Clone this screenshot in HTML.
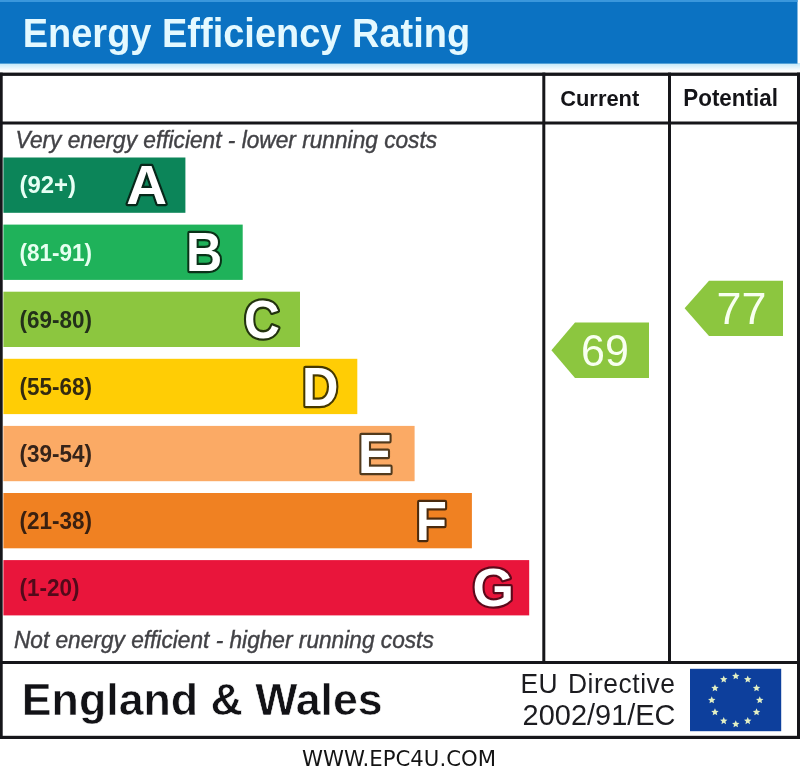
<!DOCTYPE html>
<html><head><meta charset="utf-8">
<style>
html,body{margin:0;padding:0;background:#fff;}
body{width:800px;height:776px;overflow:hidden;}
svg{display:block;position:absolute;left:0;top:0;filter:blur(0.55px)}
text{font-family:"Liberation Sans",sans-serif;white-space:pre}
.b{font-weight:bold}
.i{font-style:italic}
.dj{font-family:"DejaVu Sans",sans-serif}
</style></head><body>
<svg width="800" height="776" viewBox="0 0 800 776">
<defs>
<linearGradient id="glow" x1="0" y1="0" x2="0" y2="1"><stop offset="0" stop-color="#bfe6f8"/><stop offset="1" stop-color="#ffffff"/></linearGradient>
</defs>
<rect x="0" y="63" width="800" height="8" fill="url(#glow)"/>
<rect x="0" y="0" width="797.5" height="63.6" fill="#0b72c2"/>
<rect x="0" y="0" width="797.5" height="2" fill="#3a97dc"/>
<text class="b" transform="translate(22.7,46.6) scale(1,1.08)" font-size="38" fill="#e4f9ff">Energy Efficiency Rating</text>
<rect x="3.4" y="157.50" width="182.00" height="55.3" fill="#0c8559"/>
<text class="b" transform="translate(19.5,193.40) scale(1,1.04)" font-size="22.5" fill="#e6fff4" textLength="56.5" lengthAdjust="spacingAndGlyphs">(92+)</text>
<text class="b" transform="translate(126.29,204.30) scale(0.5657,0.5585)" x="0" y="0" font-size="100" fill="#fff" stroke="#07281a" stroke-width="7.83" stroke-linejoin="round" paint-order="stroke">A</text>
<rect x="3.4" y="224.60" width="239.30" height="55.3" fill="#1fb25a"/>
<text class="b" transform="translate(19.5,260.50) scale(1,1.04)" font-size="22.5" fill="#e6fff0">(81-91)</text>
<text class="b" transform="translate(185.91,271.40) scale(0.5016,0.5585)" x="0" y="0" font-size="100" fill="#fff" stroke="#0a3218" stroke-width="8.30" stroke-linejoin="round" paint-order="stroke">B</text>
<rect x="3.4" y="291.70" width="296.60" height="55.3" fill="#8cc63f"/>
<text class="b" transform="translate(19.5,327.60) scale(1,1.04)" font-size="22.5" fill="#23301a">(69-80)</text>
<text class="b" transform="translate(243.92,337.96) scale(0.4962,0.5428)" x="0" y="0" font-size="100" fill="#fff" stroke="#22330e" stroke-width="8.47" stroke-linejoin="round" paint-order="stroke">C</text>
<rect x="3.4" y="358.80" width="353.90" height="55.3" fill="#ffcd05"/>
<text class="b" transform="translate(19.5,394.70) scale(1,1.04)" font-size="22.5" fill="#332a10">(55-68)</text>
<text class="b" transform="translate(302.09,405.60) scale(0.5045,0.5585)" x="0" y="0" font-size="100" fill="#fff" stroke="#453800" stroke-width="8.28" stroke-linejoin="round" paint-order="stroke">D</text>
<rect x="3.4" y="425.90" width="411.20" height="55.3" fill="#fbaa65"/>
<text class="b" transform="translate(19.5,461.80) scale(1,1.04)" font-size="22.5" fill="#36241a">(39-54)</text>
<text class="b" transform="translate(358.00,472.70) scale(0.5179,0.5585)" x="0" y="0" font-size="100" fill="#fff" stroke="#523a1c" stroke-width="8.18" stroke-linejoin="round" paint-order="stroke">E</text>
<rect x="3.4" y="493.00" width="468.50" height="55.3" fill="#f08122"/>
<text class="b" transform="translate(19.5,528.90) scale(1,1.04)" font-size="22.5" fill="#3a2010">(21-38)</text>
<text class="b" transform="translate(415.76,539.80) scale(0.5103,0.5585)" x="0" y="0" font-size="100" fill="#fff" stroke="#4a2a0e" stroke-width="8.23" stroke-linejoin="round" paint-order="stroke">F</text>
<rect x="3.4" y="560.10" width="525.80" height="55.3" fill="#e9153b"/>
<text class="b" transform="translate(19.5,596.00) scale(1,1.04)" font-size="22.5" fill="#520a1a">(1-20)</text>
<text class="b" transform="translate(472.47,606.36) scale(0.5333,0.5428)" x="0" y="0" font-size="100" fill="#fff" stroke="#5c091a" stroke-width="8.18" stroke-linejoin="round" paint-order="stroke">G</text>
<rect x="0" y="72.6" width="800" height="3.3" fill="#16161a"/>
<rect x="0" y="121.5" width="800" height="3" fill="#16161a"/>
<rect x="0" y="661" width="800" height="3" fill="#16161a"/>
<rect x="0" y="735.8" width="800" height="3.2" fill="#16161a"/>
<rect x="0" y="72.6" width="2.7" height="666.4" fill="#16161a"/>
<rect x="797" y="72.6" width="3" height="666.4" fill="#16161a"/>
<rect x="542.3" y="72.6" width="3" height="590" fill="#16161a"/>
<rect x="668" y="72.6" width="3" height="590" fill="#16161a"/>
<text class="b" transform="translate(560.2,105.5) scale(1,1.04)" font-size="21.9" fill="#141418">Current</text>
<text class="b" transform="translate(683.3,105.5) scale(1,1.04)" font-size="22.4" fill="#141418">Potential</text>
<text class="i" transform="translate(15.6,148) scale(1,1.04)" font-size="22.7" fill="#424246" stroke="#424246" stroke-width="0.4">Very energy efficient - lower running costs</text>
<text class="i" transform="translate(13.9,647.5) scale(1,1.04)" font-size="22.7" fill="#424246" stroke="#424246" stroke-width="0.4">Not energy efficient - higher running costs</text>
<polygon points="551.4,350.3 575,322.6 649,322.6 649,378 575,378" fill="#8cc63f"/>
<polygon points="684.6,308.3 709,280.7 783,280.7 783,336 709,336" fill="#8cc63f"/>
<text transform="translate(581,365.7) scale(1,1.04)" font-size="43" fill="#f8fff0">69</text>
<text transform="translate(716.4,323.7) scale(1,1.04)" font-size="43" fill="#f8fff0" textLength="50" lengthAdjust="spacingAndGlyphs">77</text>
<text class="b" transform="translate(21.8,715) scale(1,0.985)" font-size="44.7" fill="#121216" stroke="#fff" stroke-width="0.6">England &amp; Wales</text>
<text transform="translate(520.4,692.8) scale(1,1.07)" font-size="26.4" fill="#1c1c20" textLength="154.6" lengthAdjust="spacing" word-spacing="2">EU Directive</text>
<text transform="translate(522.6,725) scale(1,1.04)" font-size="27.8" fill="#1c1c20" textLength="152.9" lengthAdjust="spacingAndGlyphs">2002/91/EC</text>
<rect x="690" y="668.8" width="91.2" height="62.4" fill="#0d3f9c"/>
<polygon points="735.75,672.30 736.81,674.74 739.46,674.99 737.46,676.76 738.04,679.36 735.75,678.00 733.46,679.36 734.04,676.76 732.04,674.99 734.69,674.74" fill="#e2efc4"/>
<polygon points="747.75,675.52 748.81,677.96 751.46,678.21 749.46,679.97 750.04,682.57 747.75,681.22 745.46,682.57 746.04,679.97 744.04,678.21 746.69,677.96" fill="#e2efc4"/>
<polygon points="756.53,684.30 757.59,686.74 760.24,686.99 758.25,688.76 758.83,691.36 756.53,690.00 754.24,691.36 754.82,688.76 752.83,686.99 755.48,686.74" fill="#e2efc4"/>
<polygon points="759.75,696.30 760.81,698.74 763.46,698.99 761.46,700.76 762.04,703.36 759.75,702.00 757.46,703.36 758.04,700.76 756.04,698.99 758.69,698.74" fill="#e2efc4"/>
<polygon points="756.53,708.30 757.59,710.74 760.24,710.99 758.25,712.76 758.83,715.36 756.53,714.00 754.24,715.36 754.82,712.76 752.83,710.99 755.48,710.74" fill="#e2efc4"/>
<polygon points="747.75,717.08 748.81,719.53 751.46,719.78 749.46,721.54 750.04,724.14 747.75,722.78 745.46,724.14 746.04,721.54 744.04,719.78 746.69,719.53" fill="#e2efc4"/>
<polygon points="735.75,720.30 736.81,722.74 739.46,722.99 737.46,724.76 738.04,727.36 735.75,726.00 733.46,727.36 734.04,724.76 732.04,722.99 734.69,722.74" fill="#e2efc4"/>
<polygon points="723.75,717.08 724.81,719.53 727.46,719.78 725.46,721.54 726.04,724.14 723.75,722.78 721.46,724.14 722.04,721.54 720.04,719.78 722.69,719.53" fill="#e2efc4"/>
<polygon points="714.97,708.30 716.02,710.74 718.67,710.99 716.68,712.76 717.26,715.36 714.97,714.00 712.67,715.36 713.25,712.76 711.26,710.99 713.91,710.74" fill="#e2efc4"/>
<polygon points="711.75,696.30 712.81,698.74 715.46,698.99 713.46,700.76 714.04,703.36 711.75,702.00 709.46,703.36 710.04,700.76 708.04,698.99 710.69,698.74" fill="#e2efc4"/>
<polygon points="714.97,684.30 716.02,686.74 718.67,686.99 716.68,688.76 717.26,691.36 714.97,690.00 712.67,691.36 713.25,688.76 711.26,686.99 713.91,686.74" fill="#e2efc4"/>
<polygon points="723.75,675.52 724.81,677.96 727.46,678.21 725.46,679.97 726.04,682.57 723.75,681.22 721.46,682.57 722.04,679.97 720.04,678.21 722.69,677.96" fill="#e2efc4"/>
<text class="dj" x="302" y="766" font-size="22" fill="#141414" textLength="194" lengthAdjust="spacingAndGlyphs">WWW.EPC4U.COM</text>
</svg></body></html>
